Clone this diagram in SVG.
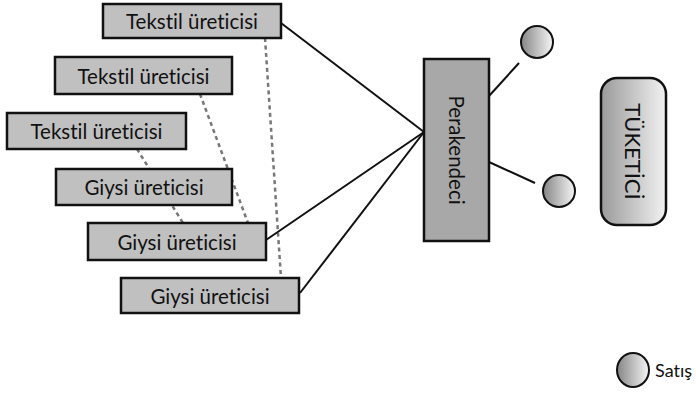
<svg xmlns="http://www.w3.org/2000/svg" width="696" height="393" viewBox="0 0 696 393">
  <defs>
    <linearGradient id="ballGrad" x1="0" y1="0" x2="1" y2="0">
      <stop offset="0" stop-color="#858585"/>
      <stop offset="1" stop-color="#f6f6f6"/>
    </linearGradient>
    <linearGradient id="consumerGrad" x1="0" y1="0" x2="1" y2="0">
      <stop offset="0" stop-color="#9a9a9a"/>
      <stop offset="1" stop-color="#f2f2f2"/>
    </linearGradient>
    <style>
      .box { fill: #c0c0c0; stroke: #111; stroke-width: 2.5; }
      .retail { fill: #a8a8a8; stroke: #111; stroke-width: 2.5; }
      .ball { fill: url(#ballGrad); stroke: #111; stroke-width: 2; }
      text { font-family: Lato, "Open Sans", sans-serif; fill: #111; font-variant-ligatures: none; }
      .lbl { font-size: 20.5px; text-anchor: middle; dominant-baseline: central; }
      .solid { stroke: #111; stroke-width: 2; fill: none; }
      .dash { stroke: #777; stroke-width: 2.5; stroke-dasharray: 4 3.5; fill: none; }
    </style>
  </defs>

  <!-- dashed links between producers, solid links to the retailer -->
  <g id="connectors">
    <line class="dash" x1="200" y1="94" x2="248" y2="223"/>
    <line class="dash" x1="137" y1="149" x2="183" y2="223"/>
    <line class="dash" x1="265" y1="38" x2="281" y2="278"/>
    <line class="solid" x1="281" y1="23" x2="424" y2="132"/>
    <line class="solid" x1="266" y1="240" x2="424" y2="132"/>
    <line class="solid" x1="300" y1="293" x2="424" y2="132"/>
    <line class="solid" x1="489" y1="96" x2="519" y2="63"/>
    <line class="solid" x1="489" y1="162" x2="535" y2="183"/>
  </g>

  <g id="tekstil1">
    <rect class="box" x="103" y="4" width="178" height="34"/>
    <text class="lbl" x="192" y="21">Tekstil üreticisi</text>
  </g>
  <g id="tekstil2">
    <rect class="box" x="55" y="57" width="177" height="37"/>
    <text class="lbl" x="143.5" y="75.5">Tekstil üreticisi</text>
  </g>
  <g id="tekstil3">
    <rect class="box" x="7" y="113" width="179" height="36"/>
    <text class="lbl" x="96.5" y="131">Tekstil üreticisi</text>
  </g>
  <g id="giysi1">
    <rect class="box" x="56" y="169" width="176" height="36"/>
    <text class="lbl" x="144" y="187">Giysi üreticisi</text>
  </g>
  <g id="giysi2">
    <rect class="box" x="88" y="223" width="178" height="37"/>
    <text class="lbl" x="177" y="241.5">Giysi üreticisi</text>
  </g>
  <g id="giysi3">
    <rect class="box" x="121" y="278" width="178" height="35"/>
    <text class="lbl" x="210" y="295.5">Giysi üreticisi</text>
  </g>

  <g id="perakendeci">
    <rect class="retail" x="424" y="59" width="65" height="182"/>
    <text class="lbl" transform="translate(456.5 150) rotate(90)">Perakendeci</text>
  </g>

  <g id="satis1">
    <circle class="ball" cx="537" cy="42" r="16"/>
  </g>
  <g id="satis2">
    <circle class="ball" cx="559" cy="191" r="16"/>
  </g>

  <g id="tuketici">
    <rect x="601" y="78" width="65" height="147" rx="16" ry="16" fill="url(#consumerGrad)" stroke="#111" stroke-width="2.5"/>
    <text class="lbl" style="font-size:22px" transform="translate(633.5 151.5) rotate(90)">TÜKETİCİ</text>
  </g>

  <g id="legend">
    <ellipse class="ball" cx="633" cy="370" rx="16" ry="17"/>
    <text x="655" y="370" font-size="18" dominant-baseline="central">Satış</text>
  </g>
</svg>
